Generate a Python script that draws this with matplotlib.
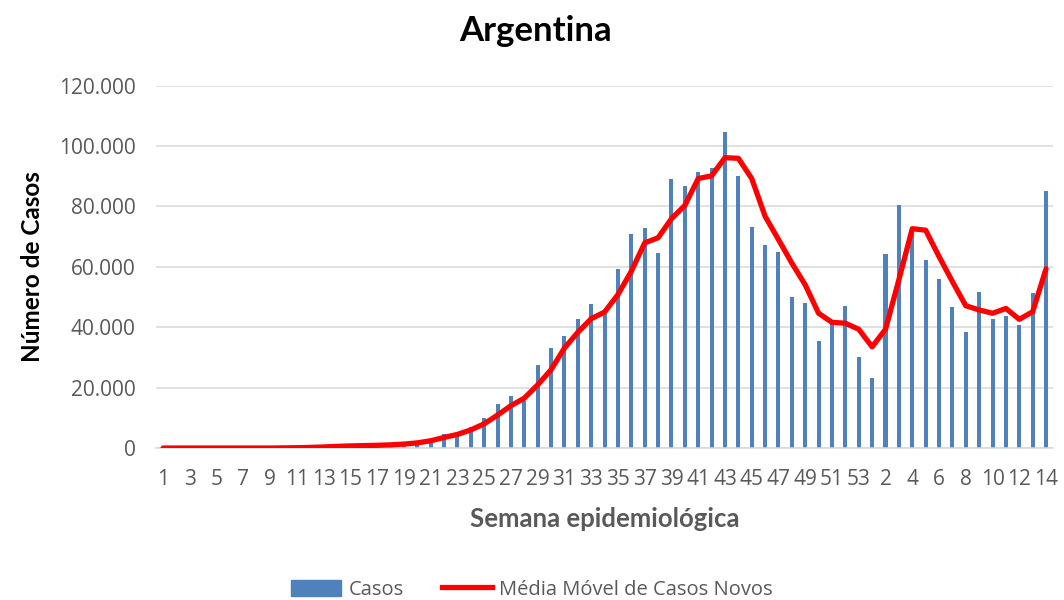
import matplotlib
matplotlib.use("Agg")
import matplotlib.pyplot as plt
from matplotlib.ticker import FuncFormatter
from matplotlib.patches import Patch
from matplotlib.lines import Line2D

# Semanas epidemiológicas: 1-53 (2020) e 1-14 (2021)
semanas = [str(s) for s in range(1, 54)] + [str(s) for s in range(1, 15)]

casos = [
    0, 0, 0, 0, 0, 0, 0, 0, 0, 20,
    60, 250, 450, 550, 700, 800, 900, 1200, 1500, 2200,
    3000, 4500, 5100, 7000, 9900, 14700, 17300, 15500, 27500, 33000,
    37100, 42700, 47800, 44500, 59300, 70800, 72900, 64700, 89200, 86800,
    91300, 92600, 104600, 90200, 73200, 67300, 64900, 49900, 48100, 35400,
    41000, 47100, 30200,
    23100, 64300, 80600, 71500, 62300, 56000, 46600, 38300, 51700, 42800,
    43800, 40700, 51200, 85100,
]

media_movel = [
    0, 0, 0, 0, 0, 0, 0, 0, 0, 50,
    100, 200, 350, 550, 700, 800, 900, 1050, 1300, 1700,
    2400, 3500, 4500, 6000, 8000, 10900, 14000, 16500, 20900, 25900,
    33100, 38300, 42800, 45000, 50800, 58500, 67900, 69600, 75900, 80300,
    89200, 90100, 96100, 95900, 89200, 76700, 69000, 61200, 54000, 44600,
    41600, 41300, 39300,
    33500, 39300, 55700, 72600, 72100, 63400, 55100, 47100, 45700, 44600,
    46200, 42600, 45100, 59300,
]

AZUL = "#4F81BD"
VERMELHO = "#FF0000"
CINZA = "#595959"

fig = plt.figure(figsize=(10.64, 6.0), dpi=100)
ax = fig.add_axes([0.147, 0.2533, 0.8424, 0.6042])

x = list(range(len(semanas)))
ax.bar(x, casos, width=0.3, color=AZUL, zorder=2)
ax.plot(x, media_movel, color=VERMELHO, lw=3.8, solid_joinstyle="round",
        solid_capstyle="round", zorder=3)

ax.set_xlim(-0.5, len(semanas) - 0.5)
ax.set_ylim(0, 120000)
ax.set_yticks(range(0, 120001, 20000))
ax.yaxis.set_major_formatter(FuncFormatter(lambda v, p: f"{int(v):,}".replace(",", ".")))
ax.set_xticks(x[::2])
ax.set_xticklabels(semanas[::2])

ax.grid(axis="y", color="#D9D9D9", lw=1.1, zorder=0)
for s in ["top", "right", "left"]:
    ax.spines[s].set_visible(False)
ax.spines["bottom"].set_color("#D9D9D9")
ax.spines["bottom"].set_linewidth(1.1)
ax.tick_params(length=0, labelcolor=CINZA, labelsize=15, pad=15)
for lbl in ax.get_xticklabels() + ax.get_yticklabels():
    lbl.set_family("Open Sans")

fig.text(0.503, 0.948, "Argentina", ha="center", va="center",
         fontsize=25, fontweight="bold", family="Lato", color="black")
fig.text(0.031, 0.555, "Número de Casos", ha="center", va="center", rotation=90,
         fontsize=17.5, fontweight="bold", family="Lato", color="black")
fig.text(0.568, 0.135, "Semana epidemiológica", ha="center", va="center",
         fontsize=18.5, fontweight="bold", family="Lato", color=CINZA)

handles = [Patch(color=AZUL, label="Casos"),
           Line2D([], [], color=VERMELHO, lw=3.8, label="Média Móvel de Casos Novos")]
leg = fig.legend(handles=handles, loc="center", bbox_to_anchor=(0.5, 0.017),
                 ncol=2, frameon=False, handlelength=2.5, handleheight=0.9,
                 handletextpad=0.35, columnspacing=1.9,
                 prop={"family": "Open Sans", "size": 14.5})
for t in leg.get_texts():
    t.set_color(CINZA)

fig.savefig("out.png", dpi=100)
